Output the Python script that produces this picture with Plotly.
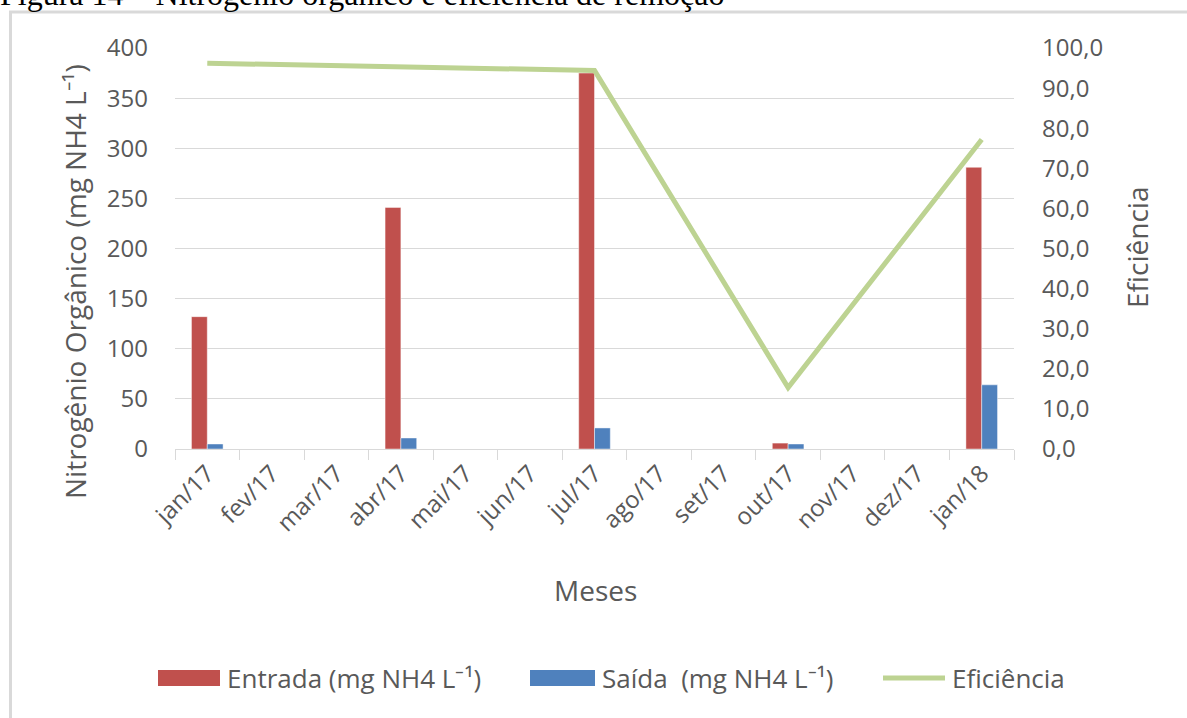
import plotly.graph_objects as go

# Monthly data
meses = ["jan/17", "fev/17", "mar/17", "abr/17", "mai/17", "jun/17", "jul/17",
         "ago/17", "set/17", "out/17", "nov/17", "dez/17", "jan/18"]
entrada = [132, None, None, 241, None, None, 375, None, None, 5.9, None, None, 281]
saida = [5, None, None, 11, None, None, 21, None, None, 5.0, None, None, 64]
eficiencia = [96.2, None, None, 95.4, None, None, 94.4, None, None, 15.3, None, None, 77.2]

serie_nomes = ["Entrada (mg NH4 L\u207b\u00b9)", "Sa\u00edda  (mg NH4 L\u207b\u00b9)", "Efici\u00eancia"]
cores = ["#C0504D", "#4F81BD", "#BDD392"]

W, H = 1187, 718
ML, MR, MT, MB = 175, 173, 48, 269
PW, PH = W - ML - MR, H - MT - MB

def px(x):
    return (x - ML) / PW

def py(y):
    return (H - MB - y) / PH

FONT = "Open Sans"
GREY = "#595959"

fig = go.Figure()
fig.add_trace(go.Bar(x=meses, y=entrada, name=serie_nomes[0],
                     marker=dict(color=cores[0], line=dict(color="rgba(255,255,255,0.45)", width=1))))
fig.add_trace(go.Bar(x=meses, y=saida, name=serie_nomes[1],
                     marker=dict(color=cores[1], line=dict(color="rgba(255,255,255,0.45)", width=1))))
fig.add_trace(go.Scatter(x=meses, y=eficiencia, name=serie_nomes[2], yaxis="y2",
                         mode="lines", connectgaps=True,
                         line=dict(color=cores[2], width=5)))

shapes = [
    # outer chart frame
    dict(type="rect", xref="paper", yref="paper",
         x0=px(10.5), x1=px(1210), y0=py(740), y1=py(12),
         line=dict(color="#D9D9D9", width=3), fillcolor="rgba(0,0,0,0)", layer="below"),
]
annotations = [
    dict(text="Figura 14 \u2013 Nitrog\u00eanio org\u00e2nico e efici\u00eancia de remo\u00e7\u00e3o",
         xref="paper", yref="paper", x=px(-2), y=py(-6), xanchor="left", yanchor="middle",
         showarrow=False, font=dict(family="Liberation Serif", size=32, color="#000000")),
    dict(text="Nitrog\u00eanio Org\u00e2nico (mg NH4 L\u207b\u00b9)", xref="paper", yref="paper",
         x=px(75), y=py(282), xanchor="center", yanchor="middle", textangle=-90, showarrow=False,
         font=dict(family=FONT, size=28, color=GREY)),
    dict(text="Efici\u00eancia", xref="paper", yref="paper",
         x=px(1137), y=py(248), xanchor="center", yanchor="middle", textangle=-90, showarrow=False,
         font=dict(family=FONT, size=28, color=GREY)),
    dict(text="Meses", xref="paper", yref="paper",
         x=px(595), y=py(590), xanchor="center", yanchor="middle", showarrow=False,
         font=dict(family=FONT, size=28, color=GREY)),
]

# legend row: swatch + label for each series
leg_y = 678
leg_items = [(158, 220, 225), (530, 595, 600), (883, 945, 950)]
for i, (sx0, sx1, tx) in enumerate(leg_items):
    if i < 2:
        shapes.append(dict(type="rect", xref="paper", yref="paper",
                           x0=px(sx0), x1=px(sx1), y0=py(leg_y + 8), y1=py(leg_y - 8),
                           fillcolor=cores[i], line=dict(width=0)))
    else:
        shapes.append(dict(type="line", xref="paper", yref="paper",
                           x0=px(sx0), x1=px(sx1), y0=py(leg_y), y1=py(leg_y),
                           line=dict(color=cores[i], width=5)))
    annotations.append(dict(text=serie_nomes[i], xref="paper", yref="paper",
                            x=px(tx), y=py(leg_y), xanchor="left", yanchor="middle",
                            showarrow=False, font=dict(family=FONT, size=26, color=GREY)))

fig.update_layout(
    width=W, height=H,
    margin=dict(l=ML, r=MR, t=MT, b=MB, autoexpand=False),
    paper_bgcolor="white", plot_bgcolor="white",
    barmode="group", bargap=0.51, bargroupgap=0,
    separators=",.",
    showlegend=False,
    font=dict(family=FONT, color=GREY),
    shapes=shapes, annotations=annotations,
    xaxis=dict(type="category", tickangle=-45, tickson="boundaries",
               ticks="outside", ticklen=10, tickcolor="#D9D9D9",
               showline=True, linecolor="#D9D9D9", linewidth=1,
               showgrid=False, tickfont=dict(size=24, color=GREY)),
    yaxis=dict(range=[0, 400], dtick=50, showgrid=True, gridcolor="#D9D9D9",
               zeroline=False, showline=False, ticks="", ticklabelstandoff=26,
               tickfont=dict(size=24, color=GREY)),
    yaxis2=dict(range=[0, 100], dtick=10, tickformat=".1f", overlaying="y", side="right",
                showgrid=False, zeroline=False, showline=False, ticks="",
                ticklabelstandoff=27, tickfont=dict(size=24, color=GREY)),
)

fig.write_html("out.html")
